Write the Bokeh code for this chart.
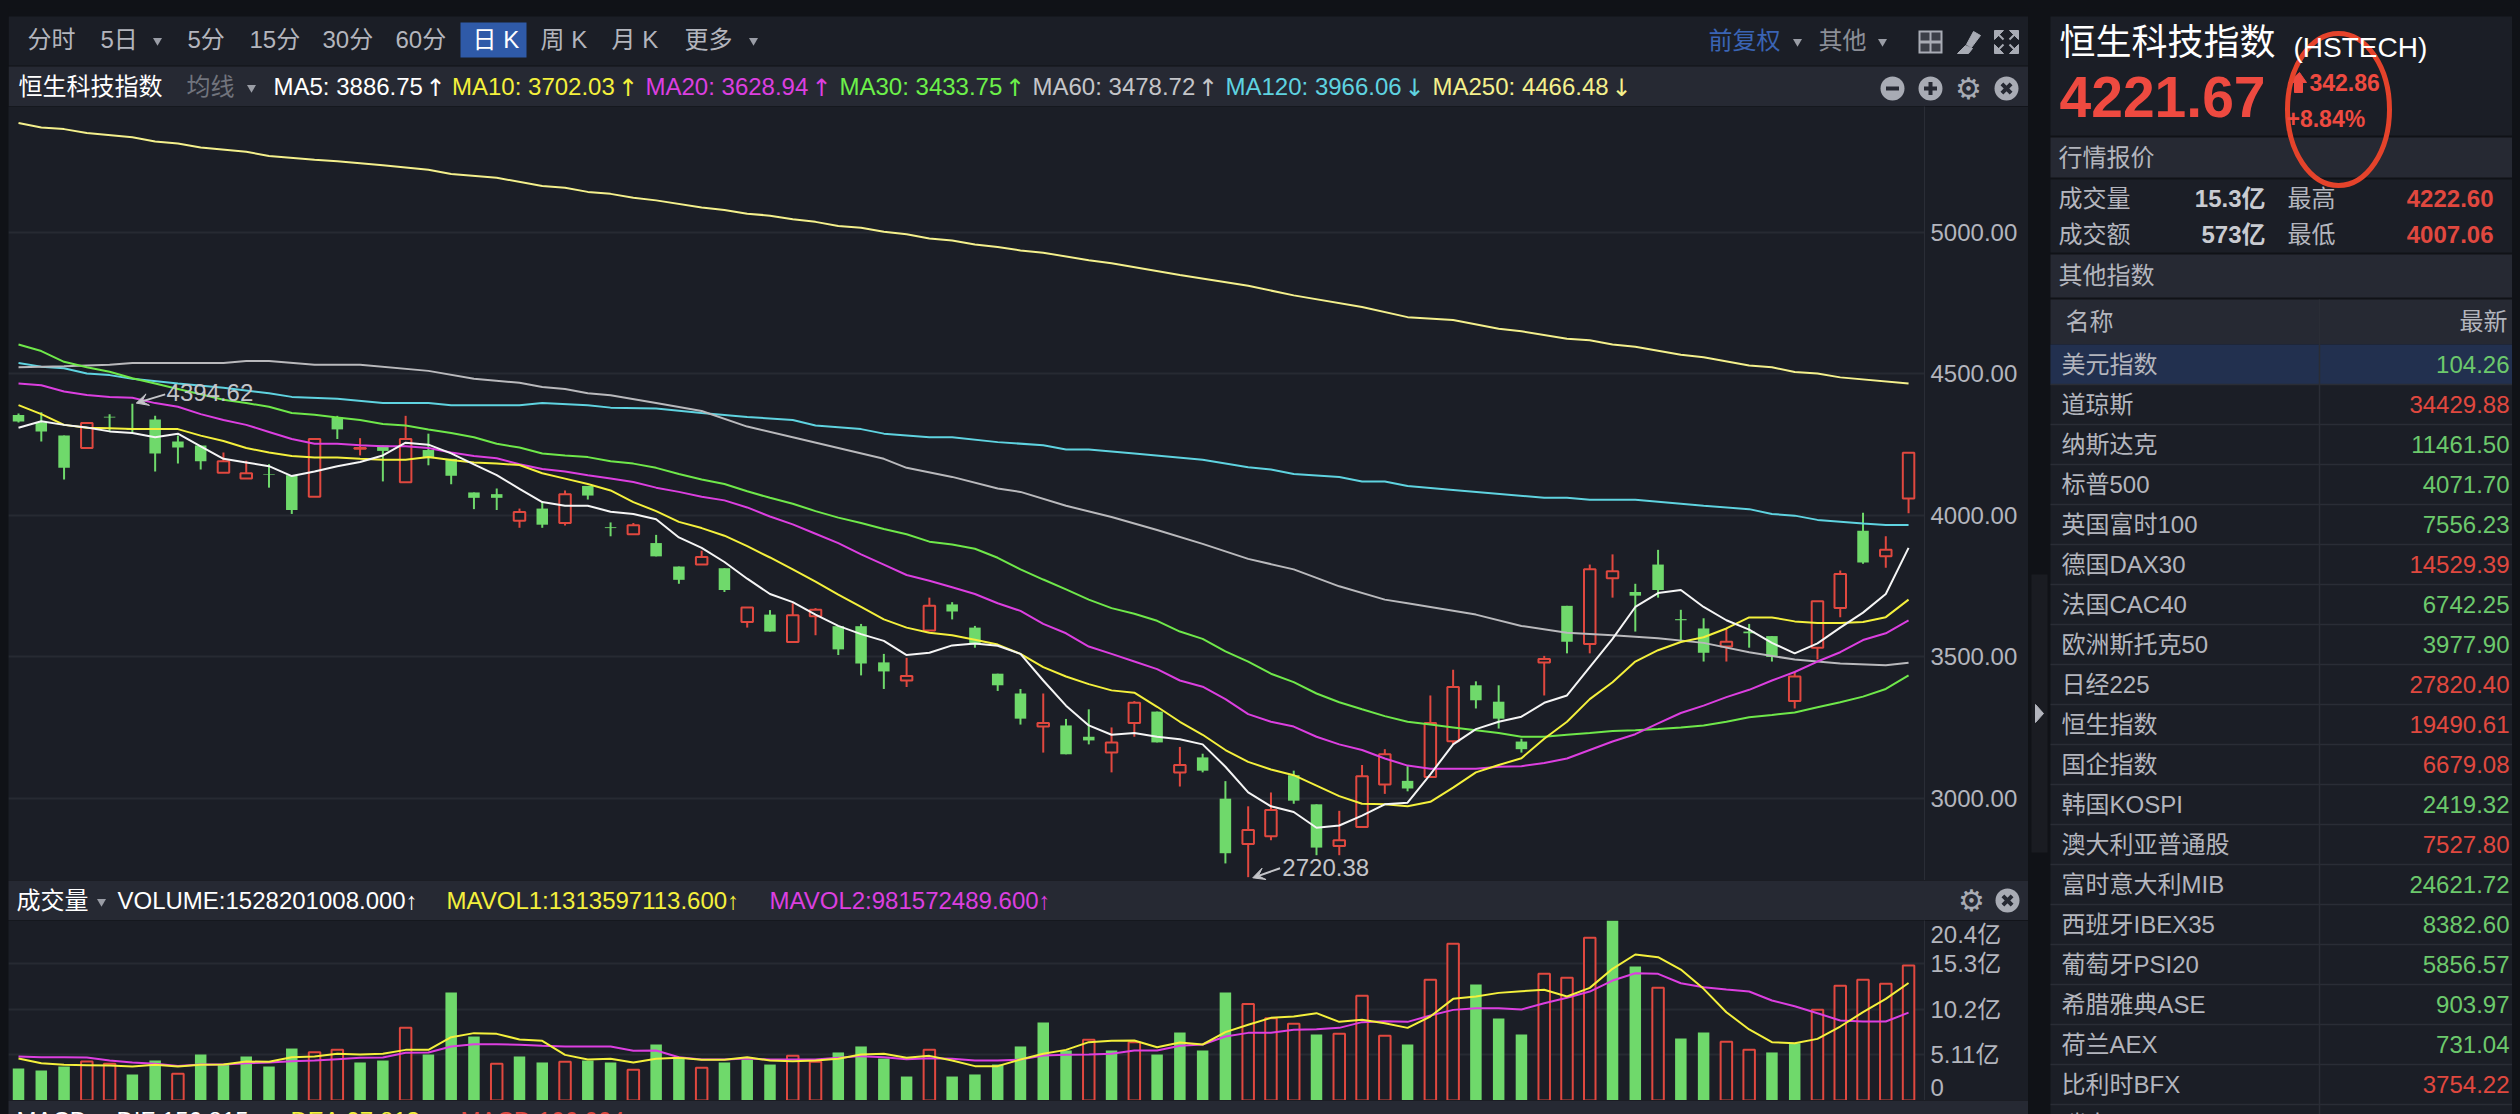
from bokeh.embed import file_html
from bokeh.layouts import column, row
from bokeh.models import Arrow, ColumnDataSource, FixedTicker, Label, NumeralTickFormatter, Range1d, VeeHead
from bokeh.plotting import figure
from bokeh.resources import INLINE

# daily candles
opens = [4355, 4329, 4282, 4238, 4349, 4305, 4339, 4261, 4247, 4151, 4130, 4145, 4142, 4066, 4346, 4236, 4247, 4117, 4231, 4200, 4081,
         4075, 3981, 4024, 3973, 4104, 3958, 3933, 3902, 3819, 3826, 3813, 3623, 3649, 3552, 3643, 3608, 3608, 3480, 3416, 3593, 3685,
         3603, 3440, 3370, 3253, 3257, 3217, 3161, 3266, 3306, 3091, 3144, 2998, 2838, 2865, 3081, 2978, 2831, 2898, 3048, 3061, 3075,
         3201, 3399, 3341, 3200, 3480, 3680, 3545, 3778, 3729, 3826, 3633, 3600, 3536, 3589, 3573, 3343, 3532, 3672, 3946, 3855, 4060]
highs = [4360, 4365, 4282, 4327, 4358, 4394.62, 4352, 4282, 4247, 4222, 4193, 4181, 4142, 4270, 4352, 4273, 4247, 4352, 4289, 4200, 4081,
         4095, 4024, 4047, 4088, 4104, 3975, 3973, 3931, 3819, 3875, 3813, 3674, 3665, 3689, 3672, 3608, 3616, 3510, 3496, 3709, 3693,
         3609, 3440, 3386, 3370, 3280, 3314, 3250, 3343, 3306, 3181, 3157, 3060, 2971, 3020, 3097, 2978, 2955, 3117, 3173, 3113, 3363,
         3454, 3413, 3399, 3210, 3503, 3680, 3826, 3862, 3758, 3878, 3666, 3636, 3599, 3616, 3573, 3447, 3696, 3805, 4009, 3926, 4222.60]
lows = [4328, 4261, 4127, 4238, 4295, 4295, 4155, 4183, 4162, 4151, 4130, 4098, 4005, 4066, 4270, 4212, 4120, 4117, 4177, 4110, 4022,
        4019, 3956, 3956, 3964, 4056, 3926, 3933, 3855, 3758, 3826, 3729, 3603, 3589, 3552, 3576, 3506, 3434, 3386, 3393, 3593, 3632,
        3532, 3379, 3260, 3161, 3155, 3190, 3091, 3217, 3197, 3041, 3091, 2769, 2720.38, 2851, 2980, 2798, 2798, 2898, 3015, 3024, 3075,
        3190, 3317, 3246, 3161, 3363, 3512, 3512, 3709, 3589, 3709, 3556, 3483, 3483, 3532, 3483, 3317, 3490, 3640, 3829, 3815, 4007.06]
closes = [4332, 4297, 4168, 4327, 4346, 4302, 4219, 4240, 4191, 4191, 4149, 4143, 4019, 4270, 4304, 4238, 4228, 4270, 4202, 4140, 4062,
          4062, 4012, 3967, 4075, 4070, 3955, 3965, 3855, 3772, 3853, 3736, 3674, 3589, 3647, 3666, 3526, 3476, 3448, 3432, 3680, 3660,
          3543, 3399, 3281, 3266, 3155, 3204, 3197, 3337, 3197, 3117, 3097, 2805, 2887, 2958, 2991, 2825, 2851, 3077, 3155, 3034, 3266,
          3393, 3346, 3281, 3173, 3492, 3553, 3809, 3802, 3716, 3736, 3629, 3514, 3553, 3583, 3499, 3430, 3696, 3793, 3833, 3878, 4221.67]

ma5 = [4310, 4333, 4320, 4311, 4297, 4291, 4276, 4289, 4244, 4200, 4187, 4174, 4139, 4155, 4174, 4189, 4212, 4257, 4250, 4219, 4180,
       4142, 4094, 4047, 4034, 4034, 4013, 4005, 3986, 3922, 3885, 3835, 3776, 3722, 3693, 3649, 3609, 3580, 3556, 3506, 3514, 3540,
       3547, 3539, 3510, 3416, 3327, 3257, 3224, 3230, 3217, 3208, 3190, 3111, 3020, 2971, 2951, 2895, 2903, 2938, 2978, 2984, 3084,
       3190, 3244, 3270, 3288, 3337, 3363, 3463, 3563, 3676, 3725, 3736, 3676, 3629, 3596, 3549, 3512, 3547, 3603, 3656, 3722, 3885]
ma10 = [4390, 4358, 4320, 4310, 4308, 4305, 4305, 4305, 4282, 4263, 4238, 4222, 4210, 4205, 4205, 4200, 4197, 4197, 4206, 4196, 4187,
        4183, 4178, 4149, 4130, 4111, 4088, 4047, 4015, 3977, 3955, 3928, 3891, 3851, 3809, 3766, 3720, 3676, 3632, 3603, 3585, 3576,
        3560, 3543, 3510, 3463, 3430, 3403, 3381, 3373, 3323, 3270, 3224, 3170, 3128, 3101, 3081, 3044, 3007, 2980, 2978, 2971, 2987,
        3037, 3091, 3117, 3141, 3210, 3270, 3350, 3410, 3483, 3523, 3552, 3569, 3600, 3639, 3639, 3625, 3619, 3619, 3623, 3640, 3702]
ma20 = [4466, 4460, 4438, 4426, 4419, 4416, 4397, 4384, 4358, 4337, 4320, 4295, 4270, 4253, 4253, 4248, 4244, 4244, 4238, 4222, 4210,
        4202, 4181, 4164, 4155, 4142, 4130, 4118, 4098, 4083, 4066, 4053, 4028, 3996, 3968, 3935, 3902, 3862, 3826, 3789, 3769, 3746,
        3722, 3689, 3662, 3616, 3583, 3536, 3510, 3483, 3456, 3416, 3394, 3350, 3297, 3270, 3253, 3217, 3190, 3170, 3140, 3115, 3104,
        3104, 3104, 3111, 3113, 3124, 3140, 3170, 3200, 3226, 3264, 3301, 3327, 3357, 3383, 3416, 3446, 3483, 3516, 3559, 3583, 3629]
ma30 = [4604, 4581, 4543, 4524, 4508, 4485, 4466, 4447, 4428, 4409, 4397, 4384, 4362, 4356, 4346, 4337, 4323, 4318, 4304, 4291, 4276,
        4253, 4240, 4219, 4212, 4206, 4191, 4183, 4168, 4146, 4127, 4111, 4085, 4062, 4041, 4015, 3992, 3973, 3952, 3933, 3907, 3897,
        3882, 3850, 3809, 3773, 3738, 3702, 3672, 3652, 3627, 3589, 3563, 3519, 3483, 3440, 3410, 3370, 3339, 3314, 3290, 3270, 3260,
        3250, 3240, 3230, 3217, 3217, 3224, 3230, 3237, 3240, 3244, 3250, 3257, 3270, 3286, 3294, 3303, 3321, 3339, 3359, 3386, 3434]
ma60_days = [0, 2, 4, 5, 9, 10, 11, 13, 15, 18, 20, 22, 23, 24, 25, 26, 28, 30, 32, 34, 36, 38, 39, 41, 43, 44, 46, 48, 50, 52, 54, 56,
             58, 60, 61, 62, 64, 66, 68, 70, 72, 74, 76, 78, 80, 82, 83]
ma60 = [4524, 4527, 4533, 4539, 4539, 4546, 4546, 4533, 4533, 4511, 4483, 4469, 4454, 4447, 4432, 4425, 4397, 4369, 4314, 4276, 4238,
        4200, 4168, 4136, 4095, 4083, 4034, 3994, 3948, 3899, 3846, 3809, 3749, 3702, 3689, 3676, 3649, 3609, 3585, 3576, 3565, 3549,
        3516, 3490, 3476, 3470, 3479]
ma120_days = [0, 1, 2, 3, 4, 5, 7, 9, 11, 12, 14, 16, 18, 19, 22, 23, 25, 26, 28, 30, 32, 34, 35, 37, 38, 40, 41, 43, 45, 46, 47, 49, 52,
              54, 55, 56, 58, 59, 60, 61, 63, 67, 68, 69, 71, 74, 76, 77, 78, 79, 81, 82, 83]
ma120 = [4539, 4526, 4520, 4502, 4496, 4483, 4466, 4451, 4432, 4419, 4412, 4397, 4397, 4389, 4389, 4397, 4389, 4381, 4378, 4362, 4348,
         4337, 4318, 4305, 4289, 4276, 4276, 4259, 4248, 4233, 4233, 4219, 4197, 4170, 4162, 4146, 4136, 4120, 4120, 4104, 4090, 4062,
         4062, 4055, 4055, 4034, 4022, 4005, 3999, 3984, 3971, 3966, 3966]
ma250_days = [0, 1, 2, 3, 5, 6, 7, 8, 10, 11, 13, 14, 16, 18, 19, 21, 23, 24, 25, 26, 27, 28, 30, 31, 32, 33, 34, 35, 36, 37, 38, 39, 40,
              41, 42, 43, 44, 45, 47, 48, 51, 54, 56, 59, 61, 63, 65, 66, 68, 69, 70, 71, 73, 74, 76, 77, 78, 79, 80, 83]
ma250 = [5388, 5372, 5366, 5352, 5337, 5322, 5315, 5301, 5286, 5271, 5258, 5252, 5238, 5222, 5207, 5194, 5165, 5159, 5144, 5137, 5123,
         5114, 5089, 5080, 5067, 5060, 5047, 5038, 5023, 5017, 5003, 4994, 4979, 4972, 4958, 4949, 4937, 4929, 4902, 4892, 4850, 4812,
         4778, 4737, 4701, 4691, 4660, 4651, 4625, 4619, 4604, 4596, 4568, 4559, 4530, 4524, 4507, 4502, 4488, 4466]

# volume in 亿
volumes = [3.58, 3.35, 3.80, 4.36, 4.10, 2.91, 4.47, 2.98, 5.14, 4.02, 4.92, 3.80, 5.81, 5.40, 5.66, 4.25, 4.47, 8.12, 5.14, 12.07, 7.15,
           4.10, 4.92, 4.25, 4.32, 4.47, 4.25, 3.43, 6.26, 4.66, 3.65, 4.25, 4.58, 4.02, 4.99, 4.32, 5.37, 6.04, 4.69, 2.68, 5.66, 2.68,
           2.91, 4.02, 6.04, 8.72, 5.59, 6.78, 5.59, 6.52, 5.14, 7.60, 5.59, 12.07, 10.80, 9.20, 8.57, 7.38, 7.45, 11.70, 7.23, 6.26,
           13.49, 17.51, 12.97, 9.17, 7.38, 14.16, 13.71, 18.18, 20.40, 14.98, 12.59, 6.93, 7.60, 6.56, 5.66, 5.37, 6.41, 10.13, 12.82,
           13.49, 13.04, 15.10]
volume_up = [0, 0, 0, 1, 1, 0, 0, 1, 0, 0, 0, 0, 0, 1, 1, 0, 0, 1, 0, 0, 0, 1, 0, 0, 1, 0, 0, 1, 0, 0, 1, 0, 0, 0, 1, 1, 0, 0, 0, 0, 1, 0,
             0, 0, 0, 0, 0, 1, 0, 1, 0, 0, 0, 0, 1, 1, 1, 0, 1, 1, 1, 0, 1, 1, 0, 0, 0, 1, 1, 1, 0, 0, 1, 0, 0, 1, 1, 0, 0, 1, 1, 1, 1, 1]
mavol1 = [4.69, 4.17, 3.99, 3.95, 3.91, 3.80, 3.99, 3.80, 3.99, 4.02, 4.36, 4.32, 4.84, 4.92, 5.22, 5.14, 5.22, 5.66, 5.66, 7.08, 7.53,
          7.45, 6.82, 6.67, 5.10, 4.58, 4.66, 4.25, 4.66, 4.77, 4.55, 4.55, 4.84, 4.47, 4.40, 4.47, 4.66, 5.14, 5.22, 4.77, 4.99, 4.47,
          3.84, 3.84, 4.58, 5.22, 5.66, 6.52, 6.67, 6.71, 5.96, 6.48, 6.26, 7.64, 8.46, 9.24, 9.39, 9.76, 8.79, 9.02, 8.64, 8.12, 9.39,
          11.36, 11.62, 12.03, 12.22, 12.37, 11.62, 12.59, 14.72, 16.32, 16.02, 14.64, 12.48, 9.87, 7.94, 6.52, 6.41, 6.89, 8.27, 9.87,
          11.36, 13.14]
mavol2 = [4.92, 4.84, 4.84, 4.81, 4.47, 4.25, 4.10, 3.87, 4.02, 4.02, 4.17, 4.25, 4.40, 4.47, 4.62, 4.77, 4.81, 5.33, 5.37, 6.04, 6.30,
          6.30, 6.22, 6.11, 6.04, 6.04, 6.04, 5.55, 5.59, 4.84, 4.58, 4.58, 4.69, 4.58, 4.58, 4.58, 4.77, 4.96, 4.84, 4.62, 4.73, 4.66,
          4.47, 4.47, 4.58, 5.03, 5.10, 5.14, 5.22, 5.59, 5.59, 6.11, 6.26, 7.15, 7.56, 7.56, 7.90, 7.97, 8.12, 8.76, 8.87, 8.79, 9.50,
          10.13, 10.32, 10.32, 10.17, 10.88, 11.48, 12.18, 13.41, 14.23, 14.16, 13.11, 12.67, 12.41, 12.18, 11.18, 10.54, 9.76, 8.94,
          8.83, 8.83, 9.82]

price_ticks = [3000, 3500, 4000, 4500, 5000]
volume_grid = [5.11, 10.2, 15.3]
# the app pushes its top and bottom volume labels inside the pane, so those two sit off their true values
volume_labels = {1.34: "0", 5.11: "5.11亿", 10.2: "10.2亿", 15.3: "15.3亿", 19: "20.4亿"}
period_tabs = ["分时", "5日", "5分", "15分", "30分", "60分", "日 K", "周 K", "月 K", "更多"]
ma_legend = ["MA5: 3886.75", "MA10: 3702.03", "MA20: 3628.94", "MA30: 3433.75", "MA60: 3478.72", "MA120: 3966.06", "MA250: 4466.48"]
ma_arrows = ["↑", "↑", "↑", "↑", "↑", "↓", "↓"]
volume_legend = ["VOLUME:1528201008.000↑", "MAVOL1:1313597113.600↑", "MAVOL2:981572489.600↑"]
macd_legend = ["DIF:156.815↑", "DEA:97.813↑", "MACD:106.004↑"]

index_names = ["美元指数", "道琼斯", "纳斯达克", "标普500", "英国富时100", "德国DAX30", "法国CAC40", "欧洲斯托克50", "日经225", "恒生指数",
               "国企指数", "韩国KOSPI", "澳大利亚普通股", "富时意大利MIB", "西班牙IBEX35", "葡萄牙PSI20", "希腊雅典ASE", "荷兰AEX", "比利时BFX"]
index_values = ["104.26", "34429.88", "11461.50", "4071.70", "7556.23", "14529.39", "6742.25", "3977.90", "27820.40", "19490.61",
                "6679.08", "2419.32", "7527.80", "24621.72", "8382.60", "5856.57", "903.97", "731.04", "3754.22"]
index_up = [0, 1, 0, 0, 0, 1, 0, 0, 1, 1, 1, 0, 1, 0, 0, 0, 0, 0, 1]

PAGE = "#101217"
PANEL = "#1b1e26"
BAR = "#262933"
LINE = "#2a2d36"
UP = "#e0483f"
DOWN = "#6fd96b"
GREY = "#b3b5bd"
ICON = "#a8abb4"
YELLOW = "#f4f03c"
MAGENTA = "#dc3fe0"
FONT = '"Liberation Sans", "Noto Sans CJK SC"'

days = list(range(len(closes)))
x_range = Range1d(-0.44, 83.70)


def chrome(x0, x1, y0, y1, fill=PANEL):
    # figure whose data units are page pixels, for the app's bars and tables
    p = figure(width=x1 - x0, height=y1 - y0, x_range=Range1d(x0, x1), y_range=Range1d(y1, y0),
               x_axis_location=None, y_axis_location=None, tools="", toolbar_location=None,
               output_backend="svg", min_border=0, background_fill_color=fill, border_fill_color=fill,
               outline_line_color=None)
    p.grid.visible = False
    return p


def put(p, x, y, s, color=GREY, size=24, align="left", bold=False, font=FONT):
    p.add_layout(Label(x=x, y=y, text=s, text_color=color, text_font_size=f"{size}px", text_align=align,
                       text_baseline="middle", text_font_style="bold" if bold else "normal", text_font=font))


def box(p, x0, x1, y0, y1, color):
    p.quad(left=[x0], right=[x1], top=[y0], bottom=[y1], fill_color=color, line_color=None)


def chevrons(p, xs, y):
    p.scatter(xs, [y] * len(xs), marker="inverted_triangle", size=9, fill_color="#9a9da6", line_color=None)


def gear(p, x, y):
    put(p, x, y, "⚙", ICON, 30, "center", font="DejaVu Sans")


def round_icon(p, x, y, marker):
    p.scatter([x], [y], marker="circle", size=24, fill_color=ICON, line_color=None)
    p.scatter([x], [y], marker=marker, size=13, line_color=BAR, line_width=4)


# top bar: period tabs and indicator legend
head = chrome(8, 2028, 8, 106, PAGE)
box(head, 8, 2028, 16, 65, PANEL)
box(head, 8, 2028, 66, 106, BAR)
box(head, 460, 526, 22, 57, "#2f5aa8")
for tab, x in zip(period_tabs, [27, 100, 187, 249, 322, 395, 472, 540, 611, 684]):
    put(head, x, 39, tab, "#ffffff" if tab == "日 K" else GREY)
chevrons(head, [157, 753], 40)
put(head, 1708, 40, "前复权", "#3a64b4", 24)
put(head, 1818, 40, "其他", "#8b8e97", 24)
chevrons(head, [1797, 1882], 41)
# table, brush and fullscreen icons
box(head, 1918, 1942, 30, 53, ICON)
for cx0, cy0 in [(1920, 32), (1931, 32), (1920, 43), (1931, 43)]:
    box(head, cx0, cx0 + 9, cy0, cy0 + 8, "#3c3f48")
head.patch([1973, 1980, 1971, 1966], [31, 35, 47, 44], color=ICON)
head.patch([1965, 1972, 1968, 1957], [45, 48, 53, 53], color=ICON)
for cx, cy, sx, sy in [(1994, 30, 1, 1), (2018, 30, -1, 1), (1994, 53, 1, -1), (2018, 53, -1, -1)]:
    head.patch([cx, cx + sx * 9, cx], [cy, cy, cy + sy * 9], color=ICON)
    head.line([cx + sx * 3, cx + sx * 9], [cy + sy * 3, cy + sy * 9], line_color=ICON, line_width=2)

put(head, 18, 86, "恒生科技指数", "#ffffff")
put(head, 186, 86, "均线", "#71747d")
chevrons(head, [251], 87)
legend_colors = ["#ffffff", YELLOW, MAGENTA, "#6cf04a", "#c4c5c9", "#5fd3e0", "#f4f08c"]
for text, x, color in zip(ma_legend, [273, 451.5, 645, 839, 1032, 1225, 1432], legend_colors):
    put(head, x, 86, text, color)
for text, x, color in zip(ma_arrows, [435, 627.5, 821, 1014.6, 1207.6, 1414, 1621], legend_colors):
    put(head, x, 87, text, color, 24, "center", font="DejaVu Sans")
round_icon(head, 1892, 88, "dash")
round_icon(head, 1930, 88, "cross")
gear(head, 1968, 88)
round_icon(head, 2006, 88, "x")

# candlesticks
price = figure(width=2020, height=774, x_range=x_range, y_range=Range1d(2708.6, 5446),
               x_axis_location=None, y_axis_location="right", tools="", toolbar_location=None,
               output_backend="svg", min_border=0, min_border_right=104, background_fill_color=PANEL,
               border_fill_color=PANEL, outline_line_color=None)
price.xgrid.visible = False
price.ygrid.ticker = FixedTicker(ticks=price_ticks)
price.ygrid.grid_line_color = "#272a32"
price.ygrid.grid_line_width = 2
price.yaxis.ticker = FixedTicker(ticks=price_ticks)
price.yaxis.formatter = NumeralTickFormatter(format="0.00")
price.yaxis.major_tick_line_color = None
price.yaxis.minor_tick_line_color = None
price.yaxis.axis_line_color = LINE
price.yaxis.major_label_text_color = GREY
price.yaxis.major_label_text_font = FONT
price.yaxis.major_label_text_font_size = "24px"
price.yaxis.major_label_standoff = 0

candles = ColumnDataSource(dict(
    day=days, high=highs, low=lows,
    top=[max(o, c) for o, c in zip(opens, closes)],
    bottom=[min(o, c) for o, c in zip(opens, closes)],
    wick=[UP if c >= o else DOWN for o, c in zip(opens, closes)],
    fill=[PANEL if c >= o else DOWN for o, c in zip(opens, closes)],
    edge=[UP if c >= o else None for o, c in zip(opens, closes)],
))
price.segment("day", "high", "day", "low", source=candles, line_color="wick", line_width=2)
price.vbar("day", 0.505, "top", "bottom", source=candles, fill_color="fill", line_color="edge", line_width=2)

price.line(ma250_days, ma250, line_color="#f4f08c", line_width=2)
price.line(ma120_days, ma120, line_color="#5fd3e0", line_width=2)
price.line(ma60_days, ma60, line_color="#b9b9bc", line_width=2)
price.line(days, ma30, line_color="#6fe84a", line_width=2)
price.line(days, ma20, line_color=MAGENTA, line_width=2)
price.line(days, ma10, line_color=YELLOW, line_width=2)
price.line(days, ma5, line_color="#f5f5f5", line_width=2)

head_mark = VeeHead(size=12, line_color="#c4c5c9", fill_color="#c4c5c9")
price.add_layout(Arrow(end=head_mark, x_start=6.44, y_start=4428, x_end=5.17, y_end=4397, line_color="#c4c5c9", line_width=2))
price.add_layout(Arrow(end=head_mark, x_start=55.4, y_start=2752, x_end=54.2, y_end=2718, line_color="#c4c5c9", line_width=2))
put(price, 6.5, 4434, "4394.62", "#c4c5c9")
put(price, 55.5, 2755, "2720.38", "#c4c5c9")

# volume
vol_head = chrome(8, 2028, 880, 920, BAR)
put(vol_head, 16, 900, "成交量", "#ffffff")
chevrons(vol_head, [101], 901)
for text, x, color in zip(volume_legend, [117, 446, 769], ["#ffffff", YELLOW, MAGENTA]):
    put(vol_head, x, 900, text, color)
gear(vol_head, 1971, 900)
round_icon(vol_head, 2007, 900, "x")

vol = figure(width=2020, height=180, x_range=x_range, y_range=Range1d(0, 20.12),
             x_axis_location=None, y_axis_location="right", tools="", toolbar_location=None,
             output_backend="svg", min_border=0, min_border_right=104, background_fill_color=PANEL,
             border_fill_color=PANEL, outline_line_color=None)
vol.xgrid.visible = False
vol.ygrid.ticker = FixedTicker(ticks=volume_grid)
vol.ygrid.grid_line_color = "#272a32"
vol.ygrid.grid_line_width = 2
vol.yaxis.ticker = FixedTicker(ticks=list(volume_labels))
vol.yaxis.major_label_overrides = volume_labels
vol.yaxis.major_tick_line_color = None
vol.yaxis.minor_tick_line_color = None
vol.yaxis.axis_line_color = LINE
vol.yaxis.major_label_text_color = GREY
vol.yaxis.major_label_text_font = FONT
vol.yaxis.major_label_text_font_size = "24px"
vol.yaxis.major_label_standoff = 0

vol_bars = ColumnDataSource(dict(
    day=days, volume=volumes,
    fill=[PANEL if up else DOWN for up in volume_up],
    edge=[UP if up else None for up in volume_up],
))
vol.vbar("day", 0.505, "volume", 0, source=vol_bars, fill_color="fill", line_color="edge", line_width=2)
vol.line(days, mavol2, line_color=MAGENTA, line_width=2)
vol.line(days, mavol1, line_color=YELLOW, line_width=2)

# MACD pane, only its header shows
macd_head = chrome(8, 2028, 1100, 1114, BAR)
put(macd_head, 16, 1120, "MACD", "#ffffff")
for text, x, color in zip(macd_legend, [116, 290, 460], ["#ffffff", YELLOW, UP]):
    put(macd_head, x, 1120, text, color)

# right hand quote panel
side = chrome(2028, 2512, 8, 1114, PAGE)
box(side, 2031, 2047, 574, 852, "#1a1c22")
side.patch([2035, 2035, 2043], [704, 722, 713], color=GREY)
box(side, 2050, 2512, 16, 135, PANEL)
box(side, 2050, 2512, 137, 177, BAR)
box(side, 2050, 2512, 179, 252, PANEL)
box(side, 2050, 2512, 254, 297, BAR)
box(side, 2050, 2512, 299, 344, BAR)
box(side, 2050, 2512, 344, 1114, PANEL)
box(side, 2050, 2512, 344, 384, "#22304f")

put(side, 2059, 42, "恒生科技指数", "#ffffff", 36)
put(side, 2293, 47, "(HSTECH)", "#ffffff", 28)
put(side, 2059, 96, "4221.67", "#ee4a40", 57, bold=True)
side.patch([2299, 2306, 2302, 2302, 2294, 2294, 2288], [72, 82, 82, 92, 92, 82, 82], color="#ee4a40")
put(side, 2309, 82, "342.86", "#ee4a40", 23, bold=True)
put(side, 2286, 118, "+8.84%", "#ee4a40", 23, bold=True)

put(side, 2058, 157, "行情报价")
put(side, 2058, 198, "成交量")
put(side, 2058, 234, "成交额")
put(side, 2265, 198, "15.3亿", "#c9cbd1", align="right", bold=True)
put(side, 2265, 234, "573亿", "#c9cbd1", align="right", bold=True)
put(side, 2287, 198, "最高")
put(side, 2287, 234, "最低")
put(side, 2493, 198, "4222.60", UP, align="right", bold=True)
put(side, 2493, 234, "4007.06", UP, align="right", bold=True)
put(side, 2513, 198, "今开")
put(side, 2513, 234, "昨收")
put(side, 2058, 275, "其他指数")
put(side, 2065, 321, "名称")
put(side, 2507, 321, "最新", align="right")

for i, (name, value, up) in enumerate(zip(index_names, index_values, index_up)):
    y = 364 + 40 * i
    put(side, 2061, y, name)
    put(side, 2509, y, value, UP if up else "#6cc96c", align="right")
    side.segment([2050], [y + 20], [2512], [y + 20], line_color=LINE, line_width=1.5)
put(side, 2061, 1124, "瑞士SMI")
side.segment([2319], [299], [2319], [1114], line_color=LINE, line_width=1.5)

# the hand drawn ring over the change figures
side.ellipse([2338], [109], width=102, height=152, fill_color=None, line_color="#e5432b", line_width=5)

# each pane in its own row, or bokeh lines all their frames up with the price axis border
left = column(row(head), row(price), row(vol_head), row(vol), row(macd_head))
layout = row(left, side)

template = """{% block preamble %}<style>html, body { background: #101217; overflow: hidden; margin: 0 !important; }
body { padding: 8px 0 0 8px !important; }</style>{% endblock %}"""
open("out.html", "w").write(file_html(layout, INLINE, template=template))
